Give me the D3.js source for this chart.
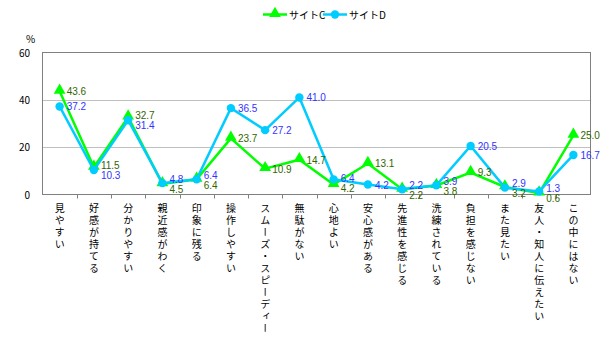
<!DOCTYPE html>
<html>
<head>
<meta charset="utf-8">
<script src="https://cdn.jsdelivr.net/npm/d3@7"></script>
<style>
  body { margin: 0; background: #fff; }
  text { font-family: "Noto Sans CJK JP", "Liberation Sans", sans-serif; }
</style>
</head>
<body>
<svg id="chart" width="615" height="353"></svg>
<script>
const categories = ['見やすい','好感が持てる','分かりやすい','親近感がわく','印象に残る','操作しやすい',
  'スムーズ・スピーディー','無駄がない','心地よい','安心感がある','先進性を感じる','洗練されている',
  '負担を感じない','また見たい','友人・知人に伝えたい','この中にはない'];
const siteC = [43.6, 11.5, 32.7, 4.5, 6.4, 23.7, 10.9, 14.7, 4.2, 13.1, 2.2, 3.8, 9.3, 3.2, 0.6, 25.0];
const siteD = [37.2, 10.3, 31.4, 4.8, 6.4, 36.5, 27.2, 41.0, 6.4, 4.2, 2.2, 3.9, 20.5, 2.9, 1.3, 16.7];
const yTicks = [0, 20, 40, 60];
const seriesNames = ['サイトC', 'サイトD'];

const plotL = 42.5, plotR = 590.5, plotT = 52.5, plotB = 194.5;
const svg = d3.select('#chart');

let x = d3.scaleBand().domain(d3.range(categories.length)).range([plotL, plotR]);
let y = d3.scaleLinear().domain([0, 60]).range([plotB, plotT]);

// gridlines
svg.append('g').selectAll('line').data(yTicks.filter(d => d > 0 && d < 60)).join('line')
  .attr('x1', plotL).attr('x2', plotR)
  .attr('y1', d => Math.round(y(d)) + 0.5).attr('y2', d => Math.round(y(d)) + 0.5)
  .attr('stroke', '#c0c0c0');

// plot border
svg.append('rect').attr('x', plotL).attr('y', plotT)
  .attr('width', plotR - plotL).attr('height', plotB - plotT)
  .attr('fill', 'none').attr('stroke', '#808080');

// x ticks
svg.append('g').selectAll('line').data(d3.range(1, categories.length)).join('line')
  .attr('x1', d => Math.round(x(d)) + 0.5).attr('x2', d => Math.round(x(d)) + 0.5)
  .attr('y1', plotB).attr('y2', plotB + 4)
  .attr('stroke', '#808080');

// y tick labels
svg.append('g').selectAll('text').data(yTicks).join('text')
  .attr('x', 30).attr('y', d => y(d) + 4)
  .attr('text-anchor', 'end').attr('font-size', 10).attr('fill', '#000')
  .text(d => d);
svg.append('text').attr('x', 26).attr('y', 43).attr('font-size', 10).text('%');

// category labels, vertical
svg.append('g').selectAll('text').data(categories).join('text')
  .attr('x', (d, i) => x(i) + x.bandwidth() / 2)
  .attr('y', 203)
  .style('writing-mode', 'vertical-rl')
  .style('letter-spacing', '2px')
  .attr('font-size', 10)
  .attr('fill', '#000')
  .text(d => d);

const cx = i => x(i) + x.bandwidth() / 2;
const line = d3.line().x((d, i) => cx(i)).y(d => y(d));
const tri = d3.symbol().type(d3.symbolTriangle).size(60);

// series C
svg.append('path').datum(siteC).attr('d', line)
  .attr('fill', 'none').attr('stroke', '#00ff00').attr('stroke-width', 2.5);
svg.append('g').selectAll('path').data(siteC).join('path')
  .attr('d', tri).attr('fill', '#00ff00')
  .attr('transform', (d, i) => `translate(${cx(i)},${y(d) - 1})`);

// series D
svg.append('path').datum(siteD).attr('d', line)
  .attr('fill', 'none').attr('stroke', '#00ccff').attr('stroke-width', 2.5);
svg.append('g').selectAll('circle').data(siteD).join('circle')
  .attr('cx', (d, i) => cx(i)).attr('cy', d => y(d)).attr('r', 4.2)
  .attr('fill', '#00ccff');

// data labels, nudged apart when they would overlap
function labelY(i, which) {
  let yc = y(siteC[i]), yd = y(siteD[i]);
  if (Math.abs(yc - yd) >= 12) return which === 'C' ? yc : yd;
  let mid = (yc + yd) / 2;
  let cUp = siteC[i] - siteD[i] > 1;
  if (which === 'C') return cUp ? mid - 4 : mid + 6;
  return cUp ? mid + 6 : mid - 4;
}
svg.append('g').selectAll('text').data(siteC).join('text')
  .attr('x', (d, i) => cx(i) + 7).attr('y', (d, i) => labelY(i, 'C') + 4)
  .attr('font-size', 10).attr('fill', '#336600')
  .style('font-family', '"Liberation Sans", Arial, sans-serif')
  .text(d => d.toFixed(1));
svg.append('g').selectAll('text').data(siteD).join('text')
  .attr('x', (d, i) => cx(i) + 7).attr('y', (d, i) => labelY(i, 'D') + 4)
  .attr('font-size', 10).attr('fill', '#3333ff')
  .style('font-family', '"Liberation Sans", Arial, sans-serif')
  .text(d => d.toFixed(1));

// legend
const legend = svg.append('g');
const lx = [263, 323];
seriesNames.forEach((name, k) => {
  let col = k === 0 ? '#00ff00' : '#00ccff';
  legend.append('line').attr('x1', lx[k]).attr('x2', lx[k] + 24)
    .attr('y1', 14.5).attr('y2', 14.5).attr('stroke', col).attr('stroke-width', 2.5);
  if (k === 0) {
    legend.append('path').attr('d', tri).attr('fill', col)
      .attr('transform', `translate(${lx[k] + 12},13.5)`);
  } else {
    legend.append('circle').attr('cx', lx[k] + 12).attr('cy', 14.5).attr('r', 4.2).attr('fill', col);
  }
  legend.append('text').attr('x', lx[k] + 26).attr('y', 18.5)
    .attr('font-size', 10).attr('fill', '#000').text(name);
});
</script>
</body>
</html>
